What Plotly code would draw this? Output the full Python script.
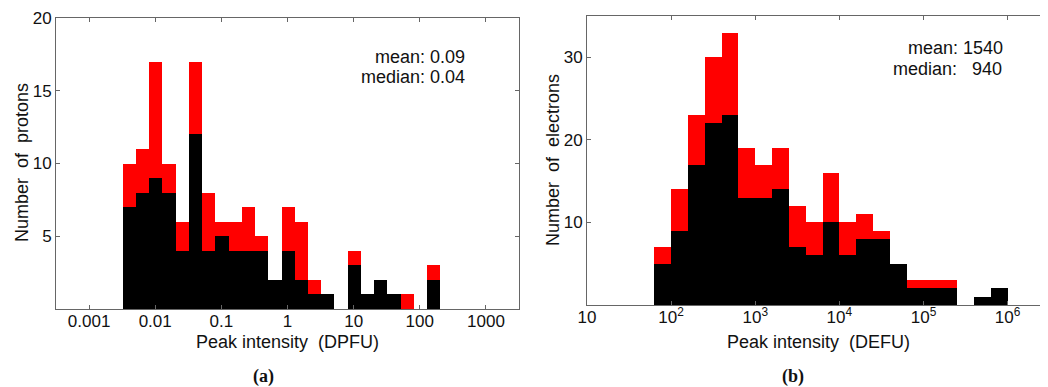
import plotly.graph_objects as go

# ---------------- data ----------------
# Panel (a): protons, bins in log10(peak intensity / DPFU)
p_bin_lo = [-2.49, -2.29, -2.09, -1.89, -1.69, -1.49, -1.29, -1.09, -0.89, -0.69, -0.49, -0.29,
            -0.09, 0.11, 0.31, 0.51, 0.71, 0.91, 1.11, 1.31, 1.51, 1.71, 1.91, 2.11]
p_black = [7, 8, 9, 8, 4, 12, 4, 5, 4, 4, 4, 2, 4, 2, 1, 1, 0, 3, 1, 2, 1, 0, 0, 2]
p_total = [10, 11, 17, 10, 6, 17, 8, 6, 6, 7, 5, 2, 7, 6, 2, 1, 0, 4, 1, 2, 1, 1, 0, 3]
p_tickvals = [-3, -2, -1, 0, 1, 2, 3]
p_ticktext = ["0.001", "0.01", "0.1", "1", "10", "100", "1000"]
p_yticks = [5, 10, 15, 20]

# Panel (b): electrons, bins in log10(peak intensity / DEFU)
e_bin_lo = [1.8, 2.0, 2.2, 2.4, 2.6, 2.8, 3.0, 3.2, 3.4, 3.6, 3.8, 4.0, 4.2, 4.4, 4.6, 4.8,
            5.0, 5.2, 5.4, 5.6, 5.8]
e_black = [5, 9, 17, 22, 23, 13, 13, 14, 7, 6, 10, 6, 8, 8, 5, 2, 2, 2, 0, 1, 2]
e_total = [7, 14, 23, 30, 33, 19, 17, 19, 12, 10, 16, 10, 11, 9, 5, 3, 3, 3, 0, 1, 2]
e_tickvals = [1, 2, 3, 4, 5, 6]
e_ticktext = ["10", "10<sup>2</sup>", "10<sup>3</sup>", "10<sup>4</sup>", "10<sup>5</sup>", "10<sup>6</sup>"]
e_yticks = [10, 20, 30]

BIN_W = 0.2
RED = "#ff0000"
BLACK = "#000000"
FONT = "Liberation Sans, Arial, sans-serif"
AXC = "#666666"

# page body has an 8px margin; figure is sized so it fills the window
OFF = 8
W, H = 1048 - OFF, 387 - OFF


def px(x):
    return (x - OFF) / W


def py(y):
    return 1 - (y - OFF) / H


fig = go.Figure()


def add_panel(lo, black, total, xa, ya):
    centers = [v + BIN_W / 2 for v in lo]
    red = [t - b for t, b in zip(total, black)]
    fig.add_trace(go.Bar(x=centers, y=black, width=BIN_W, marker=dict(color=BLACK, line=dict(width=0)),
                         xaxis=xa, yaxis=ya, showlegend=False))
    fig.add_trace(go.Bar(x=centers, y=red, width=BIN_W, marker=dict(color=RED, line=dict(width=0)),
                         xaxis=xa, yaxis=ya, showlegend=False))


add_panel(p_bin_lo, p_black, p_total, "x", "y")
add_panel(e_bin_lo, e_black, e_total, "x2", "y2")

common = dict(showgrid=False, zeroline=False, showline=True, linecolor=AXC, linewidth=1,
              automargin=False, ticks="inside", ticklen=4, tickcolor=AXC,
              tickfont=dict(family=FONT, size=17, color="#111"))

fig.update_layout(
    template="none",
    width=W, height=H, autosize=False,
    margin=dict(l=0, r=0, t=0, b=0, pad=0),
    paper_bgcolor="white", plot_bgcolor="white",
    barmode="stack", bargap=0, showlegend=False,
    font=dict(family=FONT, size=17, color="#111"),
    xaxis=dict(domain=[px(56), px(519)], range=[-3.5, 3.5], tickmode="array",
               tickvals=p_tickvals, ticktext=p_ticktext, mirror="ticks", anchor="y",
               ticklabelstandoff=-3, **common),
    yaxis=dict(domain=[py(309), py(18)], range=[0, 20], tickmode="array", tickvals=p_yticks,
               mirror="ticks", anchor="x", **common),
    xaxis2=dict(domain=[px(587), 1.0], range=[1, 6.48], tickmode="array",
                tickvals=e_tickvals, ticktext=e_ticktext, mirror="ticks", anchor="y2",
                ticklabelstandoff=-3, **common),
    yaxis2=dict(domain=[py(305), py(16)], range=[0, 35], tickmode="array", tickvals=e_yticks,
                mirror=False, anchor="x2", **common),
)

NB = "\u00a0"
ann = [
    dict(text="mean: 0.09", x=467, y=57, xanchor="right"),
    dict(text="median: 0.04", x=467, y=77, xanchor="right"),
    dict(text="mean: 1540", x=1005, y=48, xanchor="right"),
    dict(text="median:" + NB * 3 + "940", x=1004, y=69, xanchor="right"),
    dict(text="Peak intensity" + NB * 2 + "(DPFU)", x=287.5, y=342, xanchor="center"),
    dict(text="Peak intensity" + NB * 2 + "(DEFU)", x=818, y=342, xanchor="center"),
]
for a in ann:
    fig.add_annotation(text=a["text"], xref="paper", yref="paper",
                       x=px(a["x"]), y=py(a["y"]), xanchor=a["xanchor"], yanchor="middle",
                       showarrow=False, font=dict(family=FONT, size=18, color="#111"))

fig.add_annotation(text="Number" + NB * 2 + "of" + NB * 2 + "protons", textangle=-90,
                   xref="paper", yref="paper", x=px(22), y=py(163),
                   xanchor="center", yanchor="middle", showarrow=False,
                   font=dict(family=FONT, size=18, color="#111"))
fig.add_annotation(text="Number" + NB * 2 + "of" + NB * 2 + "electrons", textangle=-90,
                   xref="paper", yref="paper", x=px(553), y=py(160),
                   xanchor="center", yanchor="middle", showarrow=False,
                   font=dict(family=FONT, size=18, color="#111"))

for txt, xx in [("(a)", 263), ("(b)", 793)]:
    fig.add_annotation(text="<b>" + txt + "</b>", xref="paper", yref="paper",
                       x=px(xx), y=py(376), xanchor="center", yanchor="middle",
                       showarrow=False, font=dict(family="Liberation Serif, serif", size=18, color="#111"))

fig.write_html("out.html")
